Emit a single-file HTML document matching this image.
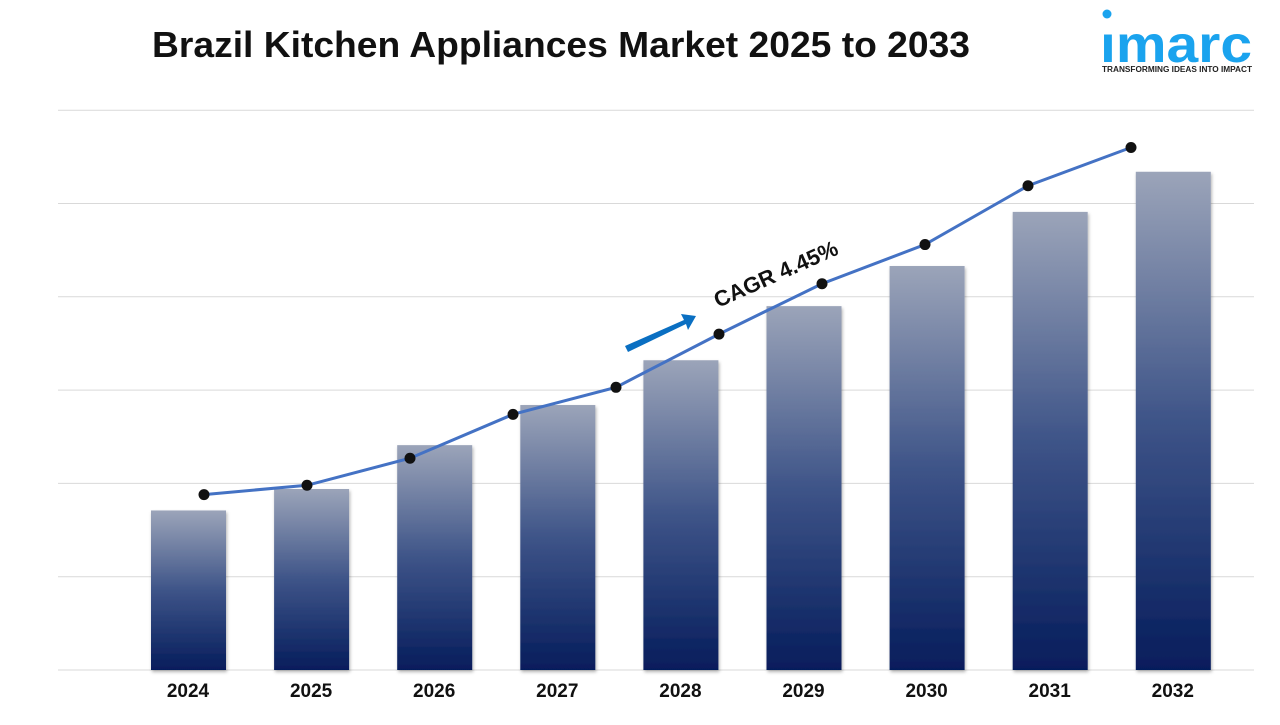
<!DOCTYPE html>
<html><head><meta charset="utf-8"><style>
body{margin:0;width:1280px;height:720px;background:#fff;overflow:hidden;font-family:"Liberation Sans",sans-serif}
</style></head><body>
<svg width="1280" height="720">
<defs>
<linearGradient id="bg" x1="0" y1="0" x2="0" y2="1">
<stop offset="0" stop-color="#9ba4b9"/><stop offset="0.5" stop-color="#3e5488"/><stop offset="1" stop-color="#061d5c"/>
</linearGradient>
<filter id="sh"><feDropShadow dx="1" dy="2" stdDeviation="1.5" flood-opacity="0.3"/></filter>
</defs>
<text x="152" y="57" textLength="818" lengthAdjust="spacingAndGlyphs" font-size="36" font-weight="bold" fill="#111">Brazil Kitchen Appliances Market 2025 to 2033</text>
<g>
<circle cx="1107" cy="14" r="4.5" fill="#1aa3ee"/>
<text x="1100" y="62" textLength="152" lengthAdjust="spacingAndGlyphs" font-size="52" font-weight="bold" fill="#1aa3ee">ımarc</text>
<text x="1102" y="72" textLength="150" lengthAdjust="spacingAndGlyphs" font-size="8" font-weight="bold" fill="#222">TRANSFORMING IDEAS INTO IMPACT</text>
</g>
<g id="grid"></g><g id="bars"></g><g id="line"></g><g id="labels"></g>
<g>
<polygon points="625,346 684,320 681,314 696,316 688,330 686,324 628,352" fill="#0a6fc2"/>
<text x="0" y="0" transform="translate(718,308) rotate(-24)" font-size="22" font-weight="bold" fill="#111">CAGR 4.45%</text>
</g>
</svg>
<script>
const categories=["2024","2025","2026","2027","2028","2029","2030","2031","2032"];
const barValues=[17.1,19.4,24.1,28.4,33.2,39.0,43.3,49.1,53.4];
const lineValues=[18.8,19.8,22.7,27.4,30.3,36.0,41.4,45.6,51.9,56.0];
const gridTicks=[0,10,20,30,40,50,60];
const NS="http://www.w3.org/2000/svg";
const y=v=>670-v*9.33;
const bx=i=>188+i*123.1;
const lx=i=>204+i*103;
function mk(t,a,p){const e=document.createElementNS(NS,t);for(const k in a)e.setAttribute(k,a[k]);p.appendChild(e);return e;}
const G=document.getElementById('grid'),B=document.getElementById('bars'),L=document.getElementById('line'),T=document.getElementById('labels');
gridTicks.forEach(t=>{const e=mk('line',{x1:58,x2:1254,y1:y(t),y2:y(t),stroke:'#d9d9d9','stroke-width':1},G);

});
barValues.forEach((v,i)=>{const e=mk('rect',{x:bx(i)-37,y:y(v),width:75,height:y(0)-y(v),fill:'url(#bg)',filter:'url(#sh)'},B);


const t=mk('text',{x:bx(i),y:697,'text-anchor':'middle','font-size':19,'font-weight':'bold',fill:'#111'},T);t.textContent=categories[i];

});
const pl=mk('polyline',{points:lineValues.map((v,i)=>lx(i)+','+y(v)).join(' '),fill:'none',stroke:'#4472c4','stroke-width':3},L);


lineValues.forEach((v,i)=>{const c=mk('circle',{cx:lx(i),cy:y(v),r:5.5,fill:'#111'},L);

});
</script>
</body></html>
